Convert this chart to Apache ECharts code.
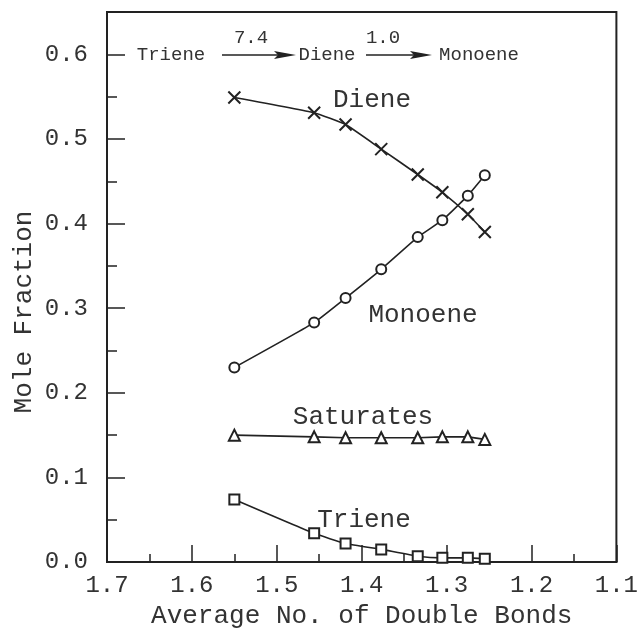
<!DOCTYPE html>
<html lang="en">
<head>
    <meta charset="UTF-8">
    <title>Mole Fraction</title>
    <script src="https://cdn.jsdelivr.net/npm/echarts@6/dist/echarts.min.js"></script>
    <style>
        html, body { margin: 0; padding: 0; background: #fff; }
        #main { width: 641px; height: 634px; }
    </style>
</head>
<body>
<div id="main"></div>
<script>
    // data
    var avgBonds = [1.55, 1.456, 1.419, 1.377, 1.334, 1.305, 1.275, 1.255];
    var diene = [0.549, 0.531, 0.517, 0.488, 0.458, 0.437, 0.411, 0.390];
    var monoene = [0.230, 0.283, 0.312, 0.346, 0.384, 0.404, 0.433, 0.457];
    var saturates = [0.150, 0.148, 0.147, 0.147, 0.147, 0.148, 0.148, 0.145];
    var triene = [0.074, 0.034, 0.022, 0.015, 0.007, 0.005, 0.005, 0.004];

    var FONT = '"Liberation Mono", "DejaVu Sans Mono", monospace';
    var INK = '#222';
    var TXT = '#333';

    function pairs(ys) {
        var out = [];
        for (var i = 0; i < avgBonds.length; i++) {
            out.push([avgBonds[i], ys[i]]);
        }
        return out;
    }

    function mkSeries(name, ys, symbol, size, smooth) {
        return {
            name: name,
            type: 'line',
            data: pairs(ys),
            smooth: smooth,
            symbol: symbol,
            symbolSize: size,
            showAllSymbol: true,
            lineStyle: {color: INK, width: 1.6},
            itemStyle: {color: INK, borderColor: INK, borderWidth: 2},
            z: 3
        };
    }

    // text label inside the plot
    function lbl(text, x, y, size) {
        return {
            type: 'text', x: x, y: y, z: 10,
            style: {
                text: text, fill: TXT, textAlign: 'center', textVerticalAlign: 'middle',
                font: size + 'px ' + FONT
            }
        };
    }

    // arrow of the reaction scheme
    function arrow(x1, x2, y) {
        return [{
            type: 'line', z: 10,
            shape: {x1: x1, y1: y, x2: x2 - 12, y2: y},
            style: {stroke: INK, lineWidth: 1.5}
        }, {
            type: 'polygon', z: 10,
            shape: {points: [[x2 - 22, y - 4], [x2, y], [x2 - 22, y + 4], [x2 - 18, y]]},
            style: {fill: INK}
        }];
    }

    var graphics = [
        lbl('Triene', 171, 55, 19),
        lbl('7.4', 251, 38, 19),
        lbl('Diene', 327, 55, 19),
        lbl('1.0', 383, 38, 19),
        lbl('Monoene', 479, 55, 19),
        lbl('Diene', 372, 100, 26),
        lbl('Monoene', 423, 315, 26),
        lbl('Saturates', 363, 417, 26),
        lbl('Triene', 364, 520, 26),
        {
            type: 'text', x: 24, y: 312, rotation: Math.PI / 2, z: 10,
            style: {
                text: 'Mole Fraction', fill: TXT, textAlign: 'center', textVerticalAlign: 'middle',
                font: '26px ' + FONT
            }
        }
    ].concat(arrow(222, 296, 55)).concat(arrow(366, 432, 55));

    var chart = echarts.init(document.getElementById('main'));
    var option = {
        animation: false,
        backgroundColor: '#fff',
        grid: {
            left: 107, right: 20, top: 12, bottom: 64,
            show: true, borderColor: INK, borderWidth: 2
        },
        xAxis: {
            type: 'value',
            min: 1.1, max: 1.7, interval: 0.1,
            inverse: true,
            axisLine: {lineStyle: {color: INK, width: 2}},
            axisTick: {inside: true, length: 17, lineStyle: {color: INK, width: 1.5}},
            minorTick: {show: true, splitNumber: 2, length: 8, lineStyle: {color: INK, width: 1.5}},
            splitLine: {show: false},
            axisLabel: {
                margin: 12, color: TXT, fontFamily: FONT, fontSize: 24,
                formatter: function (v) { return v.toFixed(1); }
            },
            name: 'Average No. of Double Bonds',
            nameLocation: 'middle',
            nameGap: 36,
            nameTextStyle: {color: TXT, fontFamily: FONT, fontSize: 26}
        },
        yAxis: [{
            type: 'value',
            min: 0, max: 0.65, interval: 0.1,
            axisLine: {show: true, lineStyle: {color: INK, width: 2}},
            axisTick: {show: true, inside: true, length: 18, lineStyle: {color: INK, width: 1.5}},
            splitLine: {show: false},
            axisLabel: {
                margin: 19, color: TXT, fontFamily: FONT, fontSize: 24,
                formatter: function (v) {
                    return Math.abs(v * 10 - Math.round(v * 10)) < 1e-6 ? v.toFixed(1) : '';
                }
            }
        }, {
            // the short ticks at every 0.05
            type: 'value', position: 'left',
            min: 0, max: 0.65, interval: 0.05,
            axisLine: {show: false},
            axisTick: {show: true, inside: true, length: 10, lineStyle: {color: INK, width: 1.5}},
            axisLabel: {show: false},
            splitLine: {show: false}
        }],
        series: [
            mkSeries('Diene', diene, 'path://M0,0L10,10M10,0L0,10', 12, 0.12),
            mkSeries('Monoene', monoene, 'emptyCircle', 10, 0.12),
            mkSeries('Saturates', saturates, 'emptyTriangle', 11, false),
            mkSeries('Triene', triene, 'emptyRect', 10, 0.15)
        ],
        graphic: graphics
    };
    chart.setOption(option);
</script>
</body>
</html>
